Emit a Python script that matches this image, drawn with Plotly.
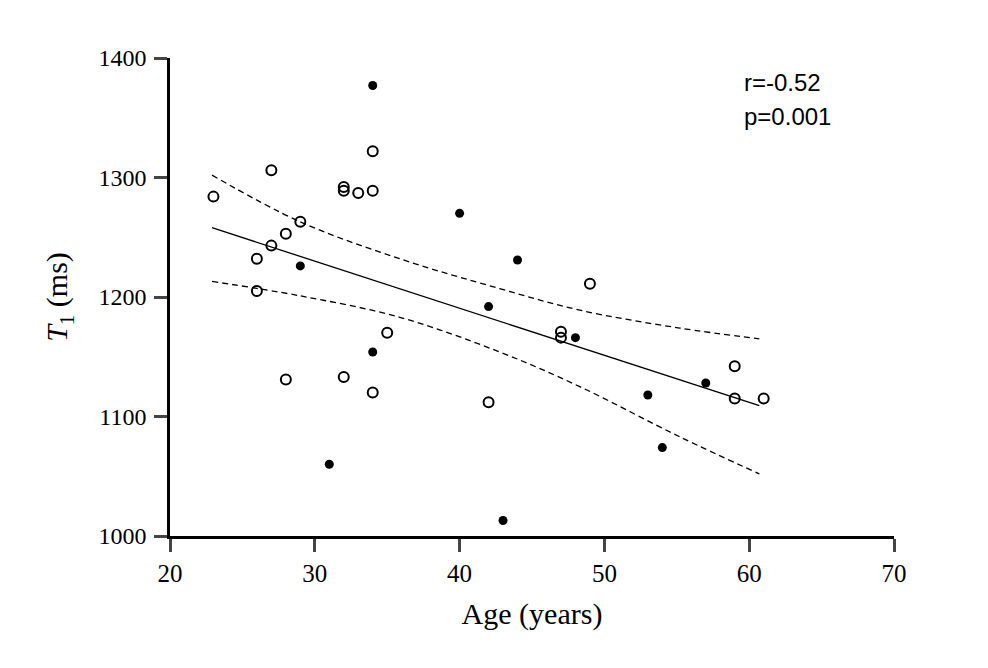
import plotly.graph_objects as go

# Open circles
open_age = [23, 26, 26, 27, 27, 28, 28, 29, 32, 32, 32, 33, 34, 34, 34, 35, 42, 47, 47, 49, 59, 59, 61]
open_t1 = [1284, 1232, 1205, 1306, 1243, 1253, 1131, 1263, 1289, 1292, 1133, 1287, 1322, 1289, 1120, 1170,
           1112, 1171, 1166, 1211, 1142, 1115, 1115]

# Filled circles
fill_age = [29, 31, 34, 34, 40, 42, 43, 44, 48, 53, 54, 57]
fill_t1 = [1226, 1060, 1377, 1154, 1270, 1192, 1013, 1231, 1166, 1118, 1074, 1128]

# Regression line
fit_age = [22.9, 60.7]
fit_t1 = [1258, 1109]

# Confidence band
band_age = [22.9, 28.97, 35.87, 42.77, 48.3, 55.2, 60.7]
band_upper = [1302, 1263, 1232, 1207, 1189, 1174, 1165]
band_lower = [1213, 1201, 1183, 1154, 1125, 1083, 1052]

x_ticks = [20, 30, 40, 50, 60, 70]
y_ticks = [1000, 1100, 1200, 1300, 1400]

fig = go.Figure()

fig.add_trace(go.Scatter(x=band_age, y=band_upper, mode="lines", line=dict(color="black", width=1.3, dash="6px,4px", shape="spline"), showlegend=False, hoverinfo="skip"))
fig.add_trace(go.Scatter(x=band_age, y=band_lower, mode="lines", line=dict(color="black", width=1.3, dash="6px,4px", shape="spline"), showlegend=False, hoverinfo="skip"))
fig.add_trace(go.Scatter(x=fit_age, y=fit_t1, mode="lines", line=dict(color="black", width=1.3), showlegend=False))

fig.add_trace(go.Scatter(x=open_age, y=open_t1, mode="markers",
                         marker=dict(symbol="circle-open", size=10, color="black", line=dict(width=2)),
                         showlegend=False))
fig.add_trace(go.Scatter(x=fill_age, y=fill_t1, mode="markers",
                         marker=dict(symbol="circle", size=9, color="black"),
                         showlegend=False))

serif = "Liberation Serif, Times New Roman, serif"

fig.update_layout(
    width=988, height=668,
    margin=dict(l=162, r=101.5, t=50, b=140),
    paper_bgcolor="white", plot_bgcolor="white",
    font=dict(family=serif, color="black"),
    xaxis=dict(range=[20, 70], tickvals=x_ticks, ticks="outside", ticklen=13, tickwidth=2.5,
               showline=True, linewidth=2.5, linecolor="black", showgrid=False, zeroline=False,
               tickfont=dict(family=serif, size=25),
               title=dict(text="Age (years)", font=dict(family=serif, size=30), standoff=18)),
    yaxis=dict(range=[1000, 1400], tickvals=y_ticks, ticks="outside", ticklen=13, tickwidth=2.5,
               showline=True, linewidth=2.5, linecolor="black", showgrid=False, zeroline=False,
               tickfont=dict(family=serif, size=24),
               ticklabelstandoff=3,
               title=dict(text="<i>T</i><sub>1</sub> (ms)", font=dict(family=serif, size=30), standoff=22)),
    annotations=[
        dict(x=59.5, y=1379.4, xref="x", yref="y", text="r=-0.52", showarrow=False,
             xanchor="left", yanchor="middle", font=dict(family="Liberation Sans, Arial, sans-serif", size=24)),
        dict(x=59.5, y=1351, xref="x", yref="y", text="p=0.001", showarrow=False,
             xanchor="left", yanchor="middle", font=dict(family="Liberation Sans, Arial, sans-serif", size=24)),
    ],
)

fig.write_html("out.html")
